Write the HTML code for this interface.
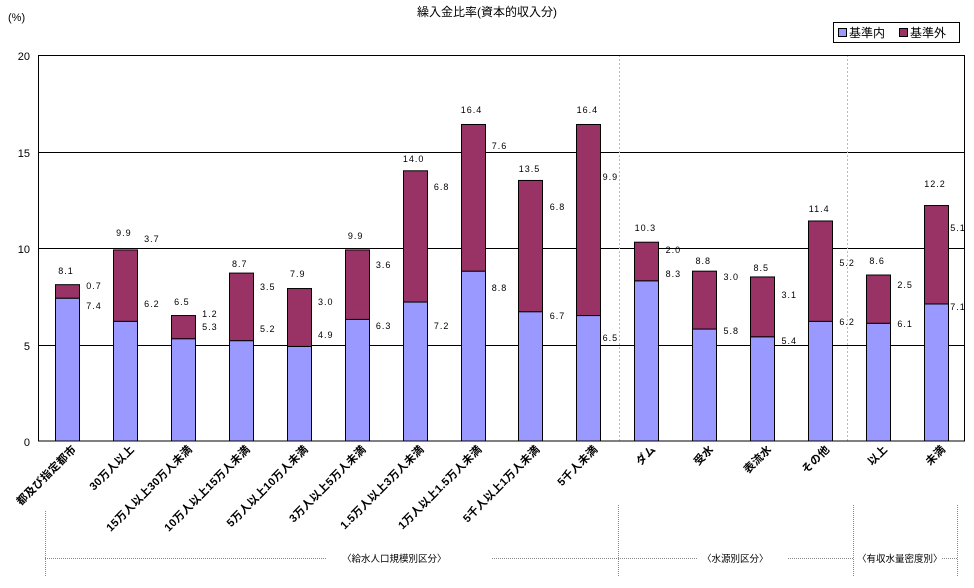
<!DOCTYPE html>
<html><head><meta charset="utf-8"><style>body{margin:0;background:#fff}</style></head><body>
<svg width="974" height="583" xmlns="http://www.w3.org/2000/svg" font-family="'Liberation Sans','Noto Sans CJK JP',sans-serif">
<rect width="974" height="583" fill="#fff"/>
<text x="487" y="16" font-size="12" text-anchor="middle">繰入金比率(資本的収入分)</text>
<text x="8" y="21" font-size="11">(%)</text>
<g stroke="#000" stroke-width="1">
<line x1="38" y1="55.5" x2="965" y2="55.5"/>
<line x1="38" y1="152.5" x2="965" y2="152.5"/>
<line x1="38" y1="248.5" x2="965" y2="248.5"/>
<line x1="38" y1="345.5" x2="965" y2="345.5"/>
</g>
<g stroke="#bbb" stroke-dasharray="2,2">
<line x1="619.5" y1="55" x2="619.5" y2="441"/>
<line x1="847.5" y1="55" x2="847.5" y2="441"/>
</g>
<g font-size="11" text-anchor="end">
<text x="30" y="60">20</text><text x="30" y="157">15</text><text x="30" y="253">10</text><text x="30" y="350">5</text><text x="30" y="446">0</text>
</g>
<g id="bars" stroke="#000" stroke-width="1"></g>
<rect x="38.5" y="55.5" width="926" height="385.5" fill="none" stroke="#000"/>
<rect x="833.5" y="22.5" width="126" height="20" fill="#fff" stroke="#000"/>
<rect x="838.5" y="28.5" width="8" height="8" fill="#9999ff" stroke="#000"/>
<text x="849" y="37" font-size="12">基準内</text>
<rect x="899.5" y="28.5" width="8" height="8" fill="#993366" stroke="#000"/>
<text x="910" y="37" font-size="12">基準外</text>
<g stroke="#888" stroke-dasharray="1,1">
<line x1="45.5" y1="511" x2="45.5" y2="577"/>
<line x1="618.5" y1="505" x2="618.5" y2="577"/>
<line x1="853.5" y1="505" x2="853.5" y2="577"/>
<line x1="957.5" y1="505" x2="957.5" y2="577"/>
<line x1="45" y1="558.5" x2="327" y2="558.5"/>
<line x1="492" y1="558.5" x2="697" y2="558.5"/>
<line x1="788" y1="558.5" x2="853" y2="558.5"/>
<line x1="942" y1="558.5" x2="957" y2="558.5"/>
</g>
<g font-size="9.5">
<text x="342" y="562">〈給水人口規模別区分〉</text>
<text x="702" y="562">〈水源別区分〉</text>
<text x="857" y="562">〈有収水量密度別〉</text>
</g>
<g id="labs" font-size="9" letter-spacing="1"></g>
<g id="xl" font-size="11" font-weight="bold" letter-spacing="0.3"></g>
</svg>
<script>
var lo=[7.4,6.2,5.3,5.2,4.9,6.3,7.2,8.8,6.7,6.5,8.3,5.8,5.4,6.2,6.1,7.1];
var up=[0.7,3.7,1.2,3.5,3.0,3.6,6.8,7.6,6.8,9.9,2.0,3.0,3.1,5.2,2.5,5.1];
var tot=["8.1","9.9","6.5","8.7","7.9","9.9","14.0","16.4","13.5","16.4","10.3","8.8","8.5","11.4","8.6","12.2"];
var pos=[[270,285,305],[232,238,303],[301,313,326],[263,286,328],[273,301,334],[235,264,325],[158,186,325],[109,145,287],[168,206,315],[109,176,337],[227,249,273],[260,276,330],[267,294,340],[208,262,321],[260,284,323],[183,227,306]];
var names=["都及び指定都市","30万人以上","15万人以上30万人未満","10万人以上15万人未満","5万人以上10万人未満","3万人以上5万人未満","1.5万人以上3万人未満","1万人以上1.5万人未満","5千人以上1万人未満","5千人未満","ダム","受水","表流水","その他","以上","未満"];
var NS="http://www.w3.org/2000/svg",b=document.getElementById("bars"),l=document.getElementById("labs"),xl=document.getElementById("xl");
function el(p,t,a,txt){var e=document.createElementNS(NS,t);for(var k in a)e.setAttribute(k,a[k]);if(txt)e.textContent=txt;p.appendChild(e);}
var s=19.3,y0=441;
for(var i=0;i<16;i++){
 var c=38+57.94*(i+0.5),x=Math.round(c-12)+0.5;
 var yl=y0-lo[i]*s,yt=y0-(lo[i]+up[i])*s;
 el(b,"rect",{x:x,y:yl,width:24,height:y0-yl,fill:"#9999ff"});
 el(b,"rect",{x:x,y:yt,width:24,height:yl-yt,fill:"#993366"});
 var dx=(i==9||i==15)?22:27;
 el(l,"text",{x:c-1,y:pos[i][0]+4,"text-anchor":"middle"},tot[i]);
 el(l,"text",{x:c+dx,y:pos[i][1]+4,"text-anchor":"middle"},up[i].toFixed(1));
 el(l,"text",{x:c+dx,y:pos[i][2]+4,"text-anchor":"middle"},lo[i].toFixed(1));
 var tx=c+10,ty=450;
 el(xl,"text",{x:tx,y:ty,"text-anchor":"end",transform:"rotate(-45 "+tx+" "+ty+")"},names[i]);
}
</script>
</body></html>
